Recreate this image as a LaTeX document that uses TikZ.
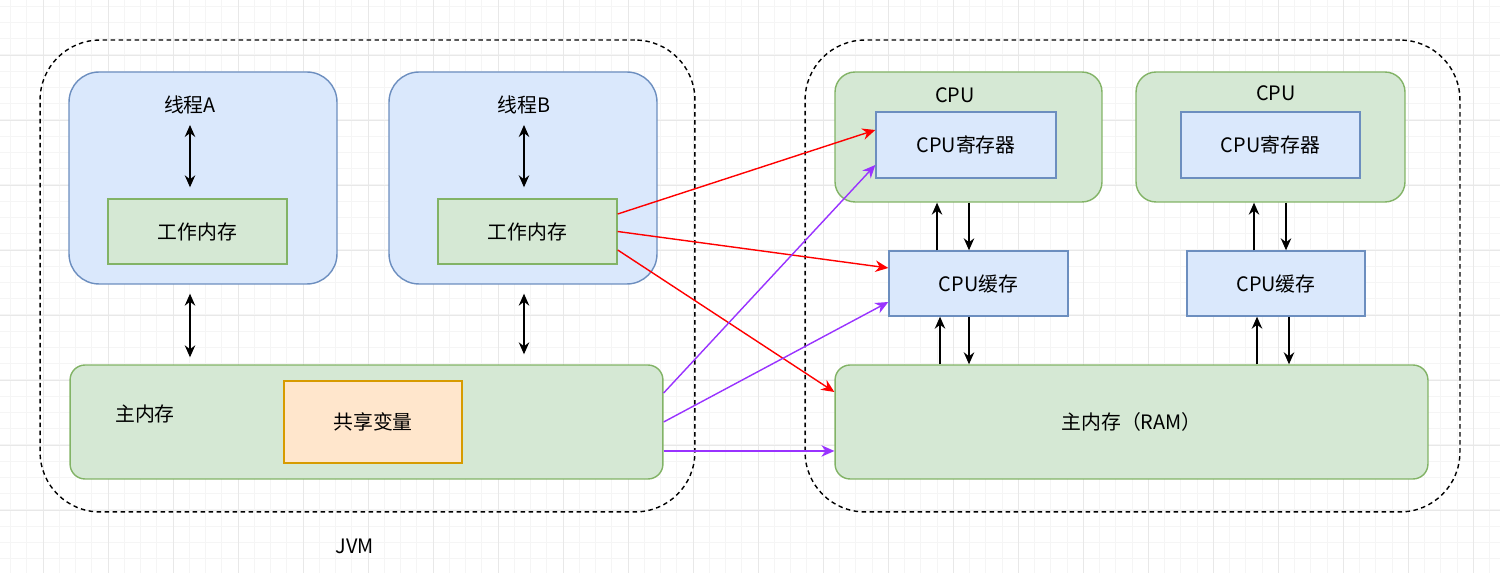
\documentclass[tikz,border=0pt]{standalone}
\usepackage{fontspec}
\setmainfont{Noto Sans CJK SC}
\usetikzlibrary{arrows.meta, positioning, calc}
\definecolor{cBlueFill}{HTML}{DAE8FC}
\definecolor{cBlueLine}{HTML}{6C8EBF}
\definecolor{cGreenFill}{HTML}{D5E8D4}
\definecolor{cGreenLine}{HTML}{82B366}
\definecolor{cOrangeFill}{HTML}{FFE6CC}
\definecolor{cOrangeLine}{HTML}{D79B00}
\definecolor{cRed}{RGB}{255,0,0}
\definecolor{cPurple}{RGB}{153,51,255}
\tikzset{
	gridmajor/.style ={draw=black!9, line width=0.4pt},
	gridminor/.style ={draw=black!4, line width=0.3pt},
	dashbox/.style   ={rectangle, rounded corners=1.2cm, draw=black, line width=0.8pt, dash pattern=on 0.09cm off 0.07cm, minimum width=13.1cm, minimum height=9.44cm},
	thread/.style    ={rectangle, rounded corners=0.6cm, draw=cBlueLine, fill=cBlueFill, line width=0.8pt, minimum width=5.36cm, minimum height=4.24cm},
	cpubox/.style    ={rectangle, rounded corners=0.4cm, draw=cGreenLine, fill=cGreenFill, line width=0.8pt, minimum height=2.6cm},
	membox/.style    ={rectangle, rounded corners=0.3cm, draw=cGreenLine, fill=cGreenFill, line width=0.8pt, minimum width=11.86cm, minimum height=2.28cm},
	greenblk/.style  ={rectangle, draw=cGreenLine, fill=cGreenFill, line width=0.8pt, minimum width=3.58cm, minimum height=1.3cm},
	blueblk/.style   ={rectangle, draw=cBlueLine, fill=cBlueFill, line width=0.8pt, minimum width=3.58cm, minimum height=1.3cm},
	orangeblk/.style ={rectangle, draw=cOrangeLine, fill=cOrangeFill, line width=0.8pt, minimum width=3.56cm, minimum height=1.64cm},
	dbl/.style       ={{Stealth[length=2.4mm, width=2.1mm]}-{Stealth[length=2.4mm, width=2.1mm]}, line width=0.8pt},
	sarrow/.style    ={-{Stealth[length=2.4mm, width=2.1mm]}, line width=0.8pt},
	redarrow/.style  ={-{Stealth[length=2.6mm, width=2.3mm]}, line width=0.8pt, draw=cRed, fill=cRed},
	purparrow/.style ={-{Stealth[length=2.6mm, width=2.3mm]}, line width=0.8pt, draw=cPurple, fill=cPurple},
}

\begin{document}
\begin{tikzpicture}[x=0.02cm, y=-0.02cm, font=\fontsize{11.3}{13}\selectfont]
	\useasboundingbox (0,0) rectangle (1500,573);
	% background grid
	\foreach \gx in {10.5,26.75,...,1500} \draw[gridminor] (\gx,0) -- (\gx,573);
	\foreach \gy in {6,22.25,...,573} \draw[gridminor] (0,\gy) -- (1500,\gy);
	\foreach \gx in {43,108,...,1500} \draw[gridmajor] (\gx,0) -- (\gx,573);
	\foreach \gy in {55,120,...,573} \draw[gridmajor] (0,\gy) -- (1500,\gy);

	% containers
	\node[dashbox] (jvm) at (367.5,276) {};
	\node[dashbox] (hw) at (1132.5,276) {};
	\node (jvmlbl) at (355,546) {JVM};

	% JVM side
	\node[thread] (thA) at (203,178) {};
	\node[thread] (thB) at (523,178) {};
	\node (lblA) at (190,105) {线程A};
	\node (lblB) at (524,105) {线程B};
	\node[greenblk] (wmA) at (197.5,231.5) {工作内存};
	\node[greenblk] (wmB) at (527.5,231.5) {工作内存};
	\node[membox] (mainL) at (366.5,422) {};
	\node (mainlbl) at (145,414) {主内存};
	\node[orangeblk] (share) at (373,422) {共享变量};

	% hardware side
	\node[cpubox, minimum width=5.34cm] (cpu1) at (968.5,137) {};
	\node[cpubox, minimum width=5.38cm] (cpu2) at (1270.5,137) {};
	\node (cpulbl1) at (955,95) {CPU};
	\node (cpulbl2) at (1276,93) {CPU};
	\node[blueblk, minimum width=3.6cm, minimum height=1.32cm] (reg1) at (966,145) {CPU寄存器};
	\node[blueblk, minimum height=1.32cm] (reg2) at (1270.5,145) {CPU寄存器};
	\node[blueblk] (c1) at (978.5,283.5) {CPU缓存};
	\node[blueblk, minimum width=3.56cm] (c2) at (1276,283.5) {CPU缓存};
	\node[membox] (ram) at (1131.5,422) {主内存（RAM）};

	% thread <-> working memory <-> main memory
	\draw[dbl] ([yshift=-0.4cm]lblA.center) -- ([yshift=0.22cm]lblA |- wmA.north);
	\draw[dbl] ([yshift=-0.4cm]lblB.center) -- ([yshift=0.22cm]lblB |- wmB.north);
	\draw[dbl] ([yshift=-0.18cm]lblA |- thA.south) -- ([yshift=0.14cm]lblA |- mainL.north);
	\draw[dbl] ([yshift=-0.18cm]lblB |- thB.south) -- ([yshift=0.2cm]lblB |- mainL.north);

	% cache <-> cpu, cache <-> ram
	\draw[sarrow] ([xshift=-0.83cm]c1.north) -- ([xshift=-0.83cm]c1.north |- cpu1.south);
	\draw[sarrow] ([xshift=-0.19cm]c1.north |- cpu1.south) -- ([xshift=-0.19cm]c1.north);
	\draw[sarrow] ([xshift=-0.77cm]c1.south |- ram.north) -- ([xshift=-0.77cm]c1.south);
	\draw[sarrow] ([xshift=-0.19cm]c1.south) -- ([xshift=-0.19cm]c1.south |- ram.north);
	\draw[sarrow] ([xshift=-0.44cm]c2.north) -- ([xshift=-0.44cm]c2.north |- cpu2.south);
	\draw[sarrow] ([xshift=0.2cm]c2.north |- cpu2.south) -- ([xshift=0.2cm]c2.north);
	\draw[sarrow] ([xshift=-0.38cm]c2.south |- ram.north) -- ([xshift=-0.38cm]c2.south);
	\draw[sarrow] ([xshift=0.26cm]c2.south) -- ([xshift=0.26cm]c2.south |- ram.north);

	% working memory -> hardware
	\draw[redarrow] ([yshift=0.35cm]wmB.east) -- ([yshift=0.3cm]reg1.west);
	\draw[redarrow] (wmB.east) -- ([yshift=0.31cm]c1.west);
	\draw[redarrow] ([yshift=-0.37cm]wmB.east) -- ([yshift=0.6cm]ram.west);

	% main memory -> hardware
	\draw[purparrow] ([yshift=0.58cm]mainL.east) -- ([yshift=-0.4cm]reg1.west);
	\draw[purparrow] (mainL.east) -- ([yshift=-0.37cm]c1.west);
	\draw[purparrow] ([yshift=-0.58cm]mainL.east) -- ([yshift=-0.58cm]ram.west);
\end{tikzpicture}
\end{document}
